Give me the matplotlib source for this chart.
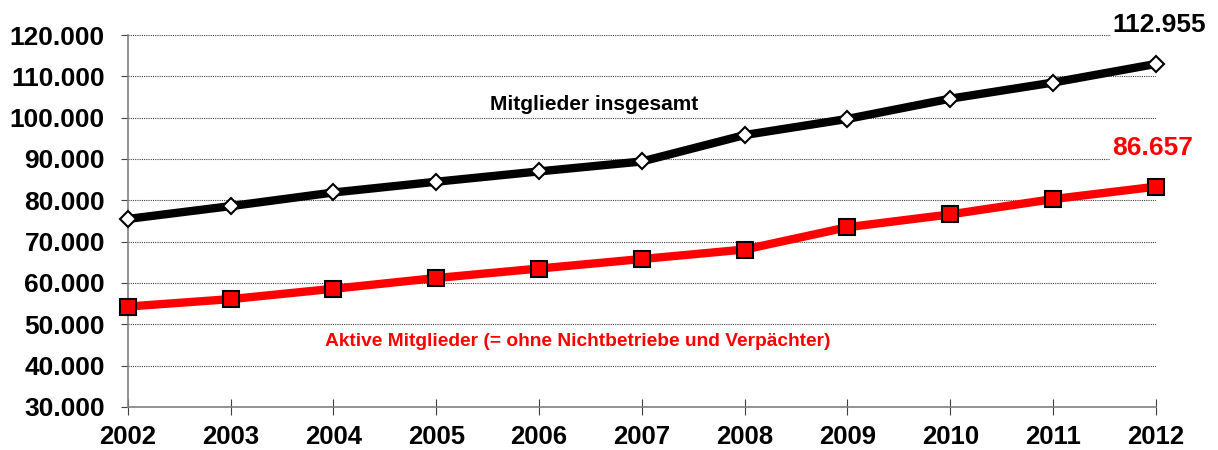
import matplotlib.pyplot as plt
from matplotlib.ticker import FuncFormatter

plt.rcParams['font.family'] = ['Liberation Sans', 'DejaVu Sans']
plt.rcParams['font.weight'] = 'bold'

years = [2002, 2003, 2004, 2005, 2006, 2007, 2008, 2009, 2010, 2011, 2012]
mitglieder_gesamt = [75500, 78600, 81900, 84500, 87000, 89400, 95800, 99700, 104600, 108500, 113000]
aktive_mitglieder = [54300, 56100, 58600, 61200, 63500, 65800, 68100, 73500, 76600, 80300, 83300]
label_gesamt = "112.955"
label_aktive = "86.657"


def de_fmt(v, pos):
    return f"{v:,.0f}".replace(",", ".")


fig = plt.figure(figsize=(12.18, 4.5), dpi=100)
ax = fig.add_axes([0.105, 0.0956, 0.844, 0.8266])

ax.plot(years, mitglieder_gesamt, color='black', lw=6, marker='D', ms=8.5,
        mfc='white', mec='black', mew=1.5, zorder=3, clip_on=False)
ax.plot(years, aktive_mitglieder, color='#ff0000', lw=6, marker='s', ms=11,
        mfc='#ff0000', mec='black', mew=1.5, zorder=3, clip_on=False)

ax.set_xlim(2002, 2012)
ax.set_ylim(30000, 120000)
ax.set_xticks(years)
ax.set_yticks(range(30000, 120001, 10000))
ax.yaxis.set_major_formatter(FuncFormatter(de_fmt))

ax.grid(axis='y', color='#404040', ls=(0, (1, 1)), lw=0.8)
ax.set_axisbelow(True)
for s in ['top', 'right']:
    ax.spines[s].set_visible(False)
for s in ['left', 'bottom']:
    ax.spines[s].set_color('#808080')
    ax.spines[s].set_linewidth(1.2)

ax.tick_params(axis='y', direction='out', length=5, color='#404040', labelsize=19, pad=11.5)
ax.tick_params(axis='x', direction='inout', length=11, color='#404040', labelsize=18.5, pad=7.5)

ax.text(2006.54, 101850, "Mitglieder insgesamt", fontsize=15, fontweight='bold',
        ha='center', va='baseline', color='black')
ax.text(2006.38, 44750, "Aktive Mitglieder (= ohne Nichtbetriebe und Verpächter)",
        fontsize=13.8, fontweight='bold', ha='center', va='baseline', color='#ff0000')
ax.text(2011.58, 120726, label_gesamt, fontsize=19, fontweight='bold', ha='left',
        va='baseline', color='black',
        bbox=dict(facecolor='white', edgecolor='none', pad=1), clip_on=False)
ax.text(2011.57, 90966, label_aktive, fontsize=19, fontweight='bold', ha='left',
        va='baseline', color='#ff0000',
        bbox=dict(facecolor='white', edgecolor='none', pad=1))

plt.savefig('out.png', dpi=100)
